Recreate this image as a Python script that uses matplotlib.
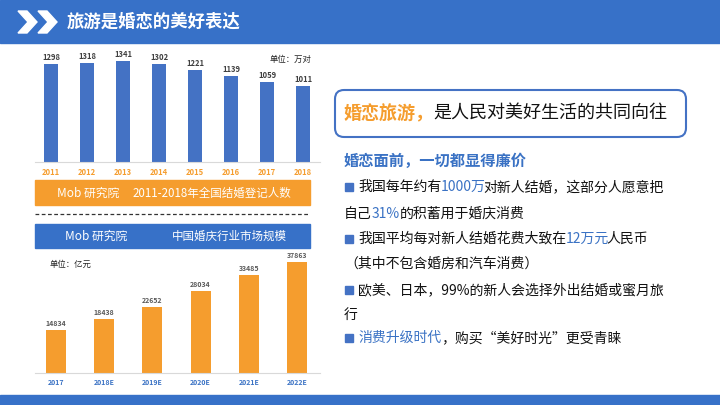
import matplotlib
matplotlib.use("Agg")
import matplotlib.pyplot as plt
from matplotlib.patches import Rectangle, FancyBboxPatch, Polygon

plt.rcParams['font.family'] = ['Noto Sans CJK SC', 'DejaVu Sans']

# data
wed_years = ['2011', '2012', '2013', '2014', '2015', '2016', '2017', '2018']
wed_counts = [1298, 1318, 1341, 1302, 1221, 1139, 1059, 1011]
mkt_years = ['2017', '2018E', '2019E', '2020E', '2021E', '2022E']
mkt_size = [14834, 18438, 22652, 28034, 33485, 37863]

BLUE = '#3771C8'
BAR_BLUE = '#4472C4'
ORANGE = '#F59D2E'
TXT_BLUE = '#3A72C4'

W, H = 720, 405
fig = plt.figure(figsize=(7.2, 4.05), dpi=100)


def px(x, y, w, h):
    # pixel box (top-left origin) -> figure fraction
    return [x / W, 1 - (y + h) / H, w / W, h / H]


bg = fig.add_axes([0, 0, 1, 1])
bg.set_xlim(0, W)
bg.set_ylim(H, 0)
bg.axis('off')

# header and footer bands
bg.add_patch(Rectangle((0, 0), W, 43, color=BLUE))
bg.add_patch(Rectangle((0, 395), W, 10, color=BLUE))
for x0 in (18, 38):
    bg.add_patch(Polygon([(x0, 11), (x0 + 9, 11), (x0 + 19, 22), (x0 + 9, 33), (x0, 33), (x0 + 10, 22)],
                         closed=True, color='white'))
bg.text(67, 22, '旅游是婚恋的美好表达', color='white', fontsize=12.5, fontweight='bold', va='center')

# banners under / above the charts
bg.add_patch(Rectangle((35, 180), 275, 25, color=ORANGE))
bg.text(57, 193, 'Mob 研究院', color='white', fontsize=8.5, va='center')
bg.text(133, 193, '2011-2018年全国结婚登记人数', color='white', fontsize=8.3, va='center')
bg.plot([35, 310], [214, 214], color='#333333', lw=0.9, ls=(0, (3, 2)))
bg.add_patch(Rectangle((35, 224), 275, 24, color=BLUE))
bg.text(65, 236, 'Mob 研究院', color='white', fontsize=8.5, va='center')
bg.text(172, 236, '中国婚庆行业市场规模', color='white', fontsize=8.3, va='center')

# top chart
ax1 = fig.add_axes(px(35, 45, 285, 117))
xs1 = range(len(wed_years))
ax1.bar(xs1, wed_counts, width=0.39, color=BAR_BLUE)
ax1.set_xlim(-0.444, 7.472)
ax1.set_ylim(0, 1553)
for i, v in zip(xs1, wed_counts):
    ax1.text(i, v + 25, str(v), ha='center', va='bottom', fontsize=5.5, fontweight='bold', color='#404040')
ax1.set_xticks(list(xs1))
ax1.set_xticklabels(wed_years, fontsize=5.5, fontweight='bold', color=ORANGE)
ax1.tick_params(length=0, pad=4)
ax1.set_yticks([])
for s in ('top', 'right', 'left'):
    ax1.spines[s].set_visible(False)
ax1.spines['bottom'].set_color('#D9D9D9')
ax1.patch.set_alpha(0)
bg.text(270, 59, '单位：万对', fontsize=6, color='#222222', va='center')

# bottom chart
ax2 = fig.add_axes(px(35, 250, 285, 123))
xs2 = range(len(mkt_years))
ax2.bar(xs2, mkt_size, width=0.415, color=ORANGE)
ax2.set_xlim(-0.436, 5.477)
ax2.set_ylim(0, 41956)
for i, v in zip(xs2, mkt_size):
    ax2.text(i, v + 900, str(v), ha='center', va='bottom', fontsize=5, fontweight='bold', color='#595959')
ax2.set_xticks(list(xs2))
ax2.set_xticklabels(mkt_years, fontsize=5, fontweight='bold', color=TXT_BLUE)
ax2.tick_params(length=0, pad=4)
ax2.set_yticks([])
for s in ('top', 'right', 'left'):
    ax2.spines[s].set_visible(False)
ax2.spines['bottom'].set_color('#D9D9D9')
ax2.patch.set_alpha(0)
bg.text(50, 264, '单位：亿元', fontsize=6, color='#222222', va='center')

# right side text
bg.add_patch(FancyBboxPatch((335, 90), 351, 47, boxstyle='round,pad=0,rounding_size=9',
                            fc='white', ec=BAR_BLUE, lw=1.5))
bg.text(344, 114, '婚恋旅游，', color=ORANGE, fontsize=13, fontweight='bold', va='center')
bg.text(433, 114, '是人民对美好生活的共同向往', color='#111111', fontsize=13, va='center')
bg.text(344, 161, '婚恋面前，一切都显得廉价', color=TXT_BLUE, fontsize=11, fontweight='bold', va='center')


def line(y, parts, bullet=False):
    # parts: (text, colour, shift in points relative to previous piece)
    x = 344
    if bullet:
        bg.add_patch(Rectangle((345, y - 4), 8, 8, color=BAR_BLUE))
        x = 358
    txt = None
    for s, c, dx in parts:
        if txt is None:
            txt = bg.text(x, y, s, color=c, fontsize=10, va='center')
        else:
            txt = bg.annotate(s, xycoords=txt, xy=(1, 0.5), xytext=(dx, 0), textcoords='offset points',
                              va='center', color=c, fontsize=10)


K = '#111111'
line(187, [('我国每年约有', K, 0), ('1000万', TXT_BLUE, 0), ('对新人结婚，这部分人愿意把', K, -2)], True)
line(214, [('自己', K, 0), ('31%', TXT_BLUE, 0), ('的积蓄用于婚庆消费', K, 0)])
line(239, [('我国平均每对新人结婚花费大致在', K, 0), ('12万元', TXT_BLUE, 0), ('人民币', K, -2)], True)
line(264, [('（其中不包含婚房和汽车消费）', K, 0)])
line(290, [('欧美、日本，99%的新人会选择外出结婚或蜜月旅', K, 0)], True)
line(315, [('行', K, 0)])
line(338, [('消费升级时代', TXT_BLUE, 0), ('，购买“美好时光”更受青睐', K, 0)], True)

fig.savefig('out.png', dpi=100)
